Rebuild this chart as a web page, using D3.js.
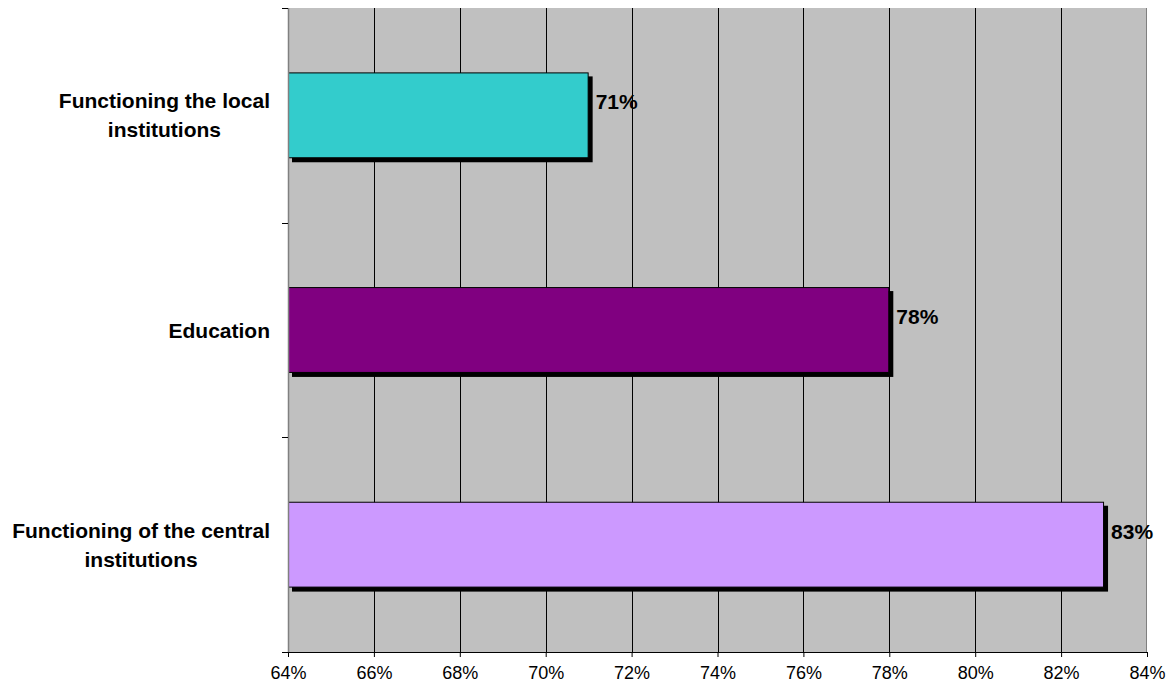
<!DOCTYPE html>
<html>
<head>
<meta charset="utf-8">
<script src="https://cdn.jsdelivr.net/npm/d3@7"></script>
<style>
  body { margin: 0; background: #fff; }
  svg { display: block; font-family: Arial, 'Liberation Sans', sans-serif; }
</style>
</head>
<body>
<svg width="1174" height="690"></svg>
<script>
// categories from top to bottom
var categories = [
  ['Functioning the local', 'institutions'],
  ['Education'],
  ['Functioning of the central', 'institutions']
]
var values = [0.71, 0.78, 0.83]
var colors = ['#33CCCC', '#800080', '#CC99FF']
var xTicks = [0.64, 0.66, 0.68, 0.70, 0.72, 0.74, 0.76, 0.78, 0.80, 0.82, 0.84]

var svg = d3.select('svg')
var margin = {top: 8, right: 27, bottom: 38, left: 288}
var width = 1174 - margin.left - margin.right
var height = 690 - margin.top - margin.bottom
var g = svg.append('g')
  .attr('transform', 'translate(' + margin.left + ',' + margin.top + ')')

var keys = categories.map((c, i) => i)
var x = d3.scaleLinear().domain([0.64, 0.84]).range([0, width])
var y = d3.scaleBand().domain(keys).range([0, height])
  .paddingInner(0.6).paddingOuter(0.3)

// plot area background
g.append('rect')
  .attr('width', width).attr('height', height)
  .attr('fill', '#C0C0C0')

// vertical gridlines
g.selectAll('.grid')
  .data(xTicks.slice(1, -1))
  .enter().append('line')
  .attr('x1', d => Math.round(x(d)) + 0.5).attr('x2', d => Math.round(x(d)) + 0.5)
  .attr('y1', 0).attr('y2', height)
  .attr('stroke', '#000')
g.append('line')
  .attr('x1', width - 0.5).attr('x2', width - 0.5)
  .attr('y1', 0).attr('y2', height)
  .attr('stroke', '#808080')

// bar shadows then bars
var bars = g.selectAll('.bar').data(values).enter().append('g')
bars.append('rect')
  .attr('x', 4)
  .attr('y', (d, i) => y(i) + 4)
  .attr('width', d => x(d) - x(0.64))
  .attr('height', y.bandwidth())
  .attr('fill', '#000')
bars.append('rect')
  .attr('x', 0.5)
  .attr('y', (d, i) => y(i) + 0.5)
  .attr('width', d => x(d) - x(0.64) - 1)
  .attr('height', y.bandwidth() - 1)
  .attr('fill', (d, i) => colors[i])
  .attr('stroke', '#000')

// value labels
bars.append('text')
  .attr('x', d => x(d) + 7)
  .attr('y', (d, i) => y(i) + 37)
  .attr('font-size', 21)
  .attr('font-weight', 'bold')
  .text(d => Math.round(d * 100) + '%')

// x axis
var xAxis = g.append('g')
  .attr('transform', 'translate(0,' + height + ')')
  .call(d3.axisBottom(x).tickValues(xTicks).tickSize(5).tickSizeOuter(0)
    .tickFormat(d3.format('.0%')))
xAxis.select('.domain').attr('stroke', '#000')
xAxis.selectAll('text').attr('font-size', 18).attr('fill', '#000').attr('dy', '1.05em')
  .attr('font-family', 'Arial, Liberation Sans, sans-serif')

// y axis line and band ticks
g.append('line')
  .attr('x1', 0.5).attr('x2', 0.5).attr('y1', 0).attr('y2', height)
  .attr('stroke', '#808080').attr('stroke-width', 1.5)
var bounds = keys.map(k => y(k) - y.step() * y.paddingInner() / 2)
bounds[0] = 0
bounds.push(height)
g.selectAll('.ytick').data(bounds).enter().append('line')
  .attr('x1', -6).attr('x2', 0)
  .attr('y1', d => Math.round(d) + 0.5).attr('y2', d => Math.round(d) + 0.5)
  .attr('stroke', '#000')

// category labels, lines centred within a right-aligned block
var labelRight = -18
categories.forEach(function (lines, i) {
  var cy = y(i) + y.bandwidth() / 2
  var lh = 29
  var t = g.append('text')
    .attr('font-size', 21).attr('font-weight', 'bold')
    .attr('text-anchor', 'middle')
  lines.forEach(function (s, j) {
    t.append('tspan')
      .attr('y', cy + (j - (lines.length - 1) / 2) * lh + 7.5)
      .text(s)
  })
  var w = d3.max(t.selectAll('tspan').nodes(), n => n.getComputedTextLength())
  t.selectAll('tspan').attr('x', labelRight - w / 2)
})
</script>
</body>
</html>
